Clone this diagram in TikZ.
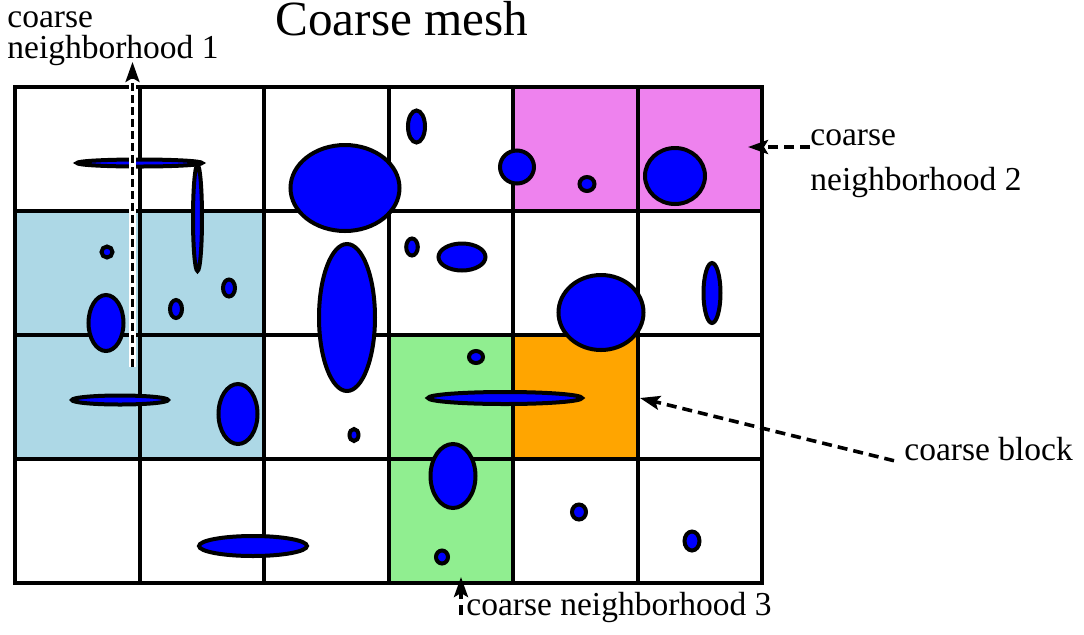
\documentclass[tikz,border=0pt]{standalone}
\usepackage{fontspec}
\setmainfont{Liberation Serif}
\usepackage{xcolor}
\usetikzlibrary{arrows.meta}
\definecolor{nbone}{RGB}{173,216,230}
\definecolor{nbtwo}{RGB}{238,130,238}
\definecolor{nbthree}{RGB}{144,238,144}
\definecolor{blockfill}{RGB}{255,165,0}
\definecolor{inclusion}{RGB}{0,0,255}

\begin{document}
\begin{tikzpicture}[
  x=0.5pt, y=-0.5pt,
  gridline/.style={line width=2pt},
  blob/.style={draw, line width=2pt, fill=inclusion},
  lbl/.style={inner sep=0pt, anchor=base west, align=left,
    font=\fontsize{16.75}{15.5}\selectfont},
  pointer/.style={-{Stealth[length=10pt,width=7pt,inset=2pt]}, line width=1.8pt,
    dash pattern=on 5pt off 3pt},
  >=Stealth
]
  \useasboundingbox (0,0) rectangle (1084,634);

  % coarse neighborhoods and the coarse block
  \fill[nbone] (15,211) rectangle (264,459);
  \fill[nbtwo] (513,87) rectangle (762,211);
  \fill[nbthree] (388.5,335) rectangle (513,583);
  \fill[blockfill] (513,335) rectangle (637.5,459);

  % coarse grid
  \draw[gridline] (15,87) rectangle (762,583);
  \foreach \gx in {139.5,264,388.5,513,637.5}
    \draw[gridline] (\gx,87) -- (\gx,583);
  \foreach \gy in {211,335,459}
    \draw[gridline] (15,\gy) -- (762,\gy);

  % inclusions: x/y/rx/ry
  \foreach \cx/\cy/\rx/\ry in {139.5/163/62.5/3.5, 197.5/218/4.5/53,
      345/188/54.5/43, 416.5/126.5/8.5/16, 517/167/17/16.5, 587/184/7.5/7,
      675/176/30/28, 107/252/5.5/5.5, 106/323/17.5/28, 176/309/6/9,
      229/288/6/8.5, 347/317.5/28/73.5, 412/247/5.8/8.5, 462/257/23.5/13.5,
      601/312.5/42.5/37.5, 712/293/8.5/30, 120/400/48/4.5, 238/414/19.5/30,
      354/435/4.5/6, 476/357/7/6, 505/398/77/6, 253/546/54/10,
      453/476/22.5/32, 442/557/6/6.5, 579/512/7/7.5, 692/541/7.5/9.5}
    \draw[blob] (\cx,\cy) ellipse [x radius=\rx, y radius=\ry];

  % labels
  \node[inner sep=0pt, anchor=base west, text height=0.7em,
    font=\fontsize{24.6}{29}\selectfont] (title) at (275,35) {Coarse mesh};
  \node[lbl] (nbonelbl) at (7,58) {coarse\\neighborhood 1};
  \node[lbl, font=\fontsize{16.75}{22.5}\selectfont] (nbtwolbl) at (810,190.5)
    {coarse\\neighborhood 2};
  \node[lbl] (blocklbl) at (904,460) {coarse block};
  \node[lbl] (nbthreelbl) at (466,615) {coarse neighborhood 3};

  \coordinate (nbonefoot) at (132.5,367);
  \coordinate (nbonetip) at (132.5,62);
  \coordinate (nbtwotip) at (748,147);
  \coordinate (blocktip) at (640,398);
  \coordinate (nbthreetip) at (461,577);

  % pointers
  \draw[white, line width=3.5pt, shorten >=9pt] (nbonefoot) -- (nbonetip);
  \draw[pointer, line width=1.5pt, dash pattern=on 4pt off 2pt]
    (nbonefoot) -- (nbonetip);
  \draw[pointer] (nbtwolbl.west |- nbtwotip) -- (nbtwotip);
  \draw[pointer] ([xshift=-5pt]blocklbl.south west) -- (blocktip);
  \draw[pointer] ([xshift=-2.5pt]nbthreelbl.base west) -- (nbthreetip);
\end{tikzpicture}
\end{document}
